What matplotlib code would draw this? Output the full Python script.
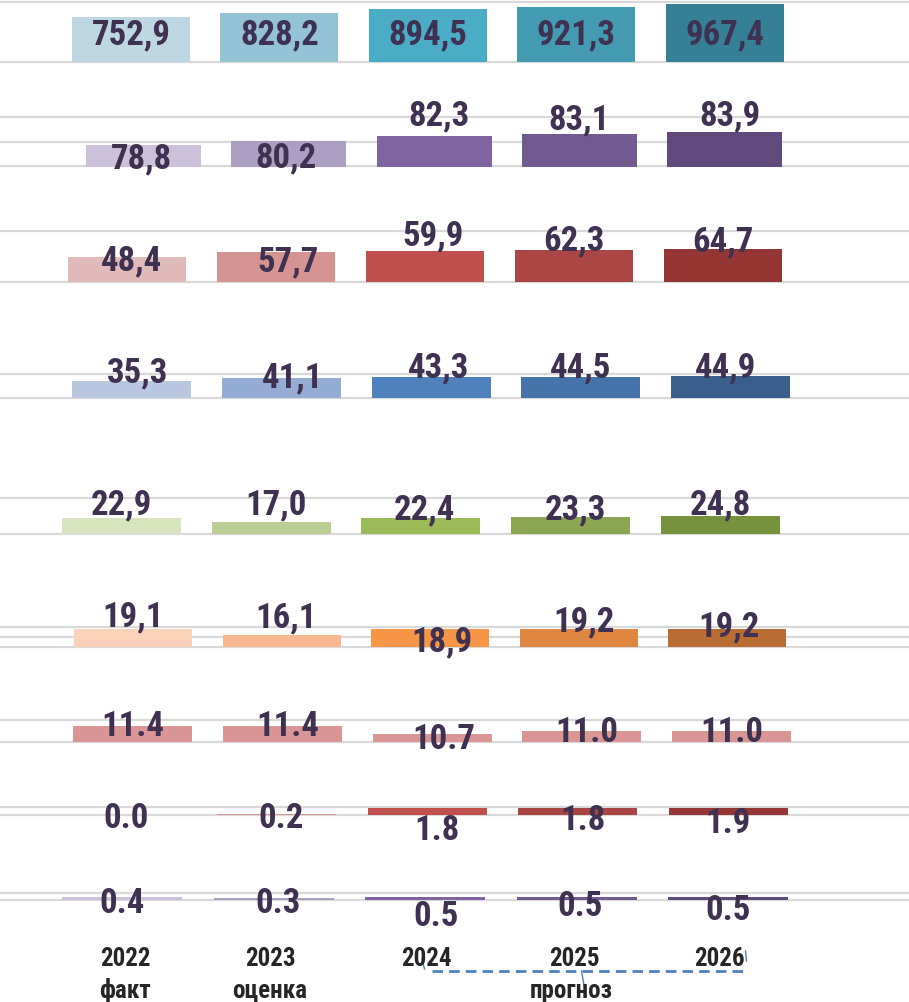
import matplotlib
matplotlib.use('Agg')
import matplotlib.pyplot as plt

# ── Data ──────────────────────────────────────────────────────────────────────
years = ['2022', '2023', '2024', '2025', '2026']
stages = ['факт', 'оценка', '', '', '']
forecast_label = 'прогноз'

row1 = [752.9, 828.2, 894.5, 921.3, 967.4]
row2 = [78.8, 80.2, 82.3, 83.1, 83.9]
row3 = [48.4, 57.7, 59.9, 62.3, 64.7]
row4 = [35.3, 41.1, 43.3, 44.5, 44.9]
row5 = [22.9, 17.0, 22.4, 23.3, 24.8]
row6 = [19.1, 16.1, 18.9, 19.2, 19.2]
row7 = [11.4, 11.4, 10.7, 11.0, 11.0]
row8 = [0.0, 0.2, 1.8, 1.8, 1.9]
row9 = [0.4, 0.3, 0.5, 0.5, 0.5]
rows = [row1, row2, row3, row4, row5, row6, row7, row8, row9]
decimal_sep = [',', ',', ',', ',', ',', ',', '.', '.', '.']

# ── Styles ────────────────────────────────────────────────────────────────────
colors = [
    ['#BDD8E3', '#93C3D4', '#4BACC6', '#449AB1', '#368095'],
    ['#CCC1DA', '#ACA0C2', '#8064A2', '#725A91', '#604A7B'],
    ['#E0BBBA', '#D59391', '#C0504D', '#AA4745', '#943634'],
    ['#B9C7E1', '#95ADD3', '#4F81BD', '#4673AA', '#3A5F8D'],
    ['#D7E4BD', '#BACE96', '#9BBB59', '#8AA650', '#76923C'],
    ['#FAD1B9', '#F8B790', '#F79646', '#DF8641', '#B96D32'],
    ['#DA9694', '#DA9694', '#DA9694', '#DA9694', '#DA9694'],
    ['#D99694', '#D99694', '#C0504D', '#A94644', '#943634'],
    ['#CCC1DA', '#ACA0C2', '#8064A2', '#725A91', '#604A7B'],
]

# per row: (top px, bottom px, ymin, ymax, gridlines)
vlayout = [
    (3.3, 62.7, 0, 1000, [0, 1000]),
    (117.7, 167.5, 70, 90, [70, 80, 90]),
    (231.7, 283.0, 0, 100, [0, 100]),
    (375.0, 398.7, 0, 50, [0, 50]),
    (499.0, 535.0, 0, 50, [0, 50]),
    (628.0, 647.8, 10, 20, [10, 15, 20]),
    (720.7, 743.0, 10, 12, [10, 12]),
    (808.3, 815.8, 0, 2, [0, 2]),
    (894.0, 901.0, 0, 1, [0, 1]),
]
# per row: (first bar centre px, spacing px, bar width px)
hlayout = [
    (131, 148.4, 118), (143.5, 145.3, 115), (127, 149, 118),
    (131.5, 149.75, 119), (121.5, 149.75, 119), (133, 148.5, 118),
    (132.5, 149.75, 119), (126, 150.5, 119), (122, 151.5, 120),
]
# label baseline distance below bar top (px) and horizontal shift (px)
lab_dy = [
    [26, 31, 35, 36, 39], [23, 25, -11, -5, -7], [12, 18, -7, -1, 2],
    [0, 8, -1, 0, 0], [-4, -8, 1, 1, -3], [-3, -8, 21, 2, 7],
    [9, 9, 14, 10, 10], [12, 13, 31, 21, 24], [15, 14, 29, 19, 23],
]
lab_dx = [
    [0, 0, 0, 0, 0], [-2, -3, 5, 0, 5], [5, 12, 8, 0, 0],
    [6, 11, 8, 0, -5], [0, 5, 3, 5, 0], [0, 5, 12, 5, 2],
    [0, 6, 12, 5, 0], [0, 5, 10, 5, 0], [0, 5, 11, 4, 0],
]

FONT = ['Roboto Condensed', 'DejaVu Sans']
TXT = '#3F3151'
GRID = '#D9D9D9'
W, H = 909, 1003
PT = 72 / 100  # px -> pt

fig = plt.figure(figsize=(W / 100, H / 100), dpi=100, facecolor='white')

for r, vals in enumerate(rows):
    top, bot, ymin, ymax, grid = vlayout[r]
    c0, sp, bw = hlayout[r]
    ax = fig.add_axes([0, 1 - bot / H, 1, (bot - top) / H])
    ax.set_xlim(-c0 / sp, (W - c0) / sp)
    ax.set_ylim(ymin, ymax)
    ax.axis('off')
    for g in grid:
        ax.axhline(g, color=GRID, lw=1.6, zorder=1, clip_on=False)
    x = list(range(len(vals)))
    ax.bar(x, vals, width=bw / sp, color=colors[r], zorder=2)
    for i, v in enumerate(vals):
        txt = f'{v:.1f}'.replace('.', decimal_sep[r])
        ax.annotate(txt, xy=(i, max(v, ymin)),
                    xytext=(lab_dx[r][i] * PT, -lab_dy[r][i] * PT),
                    textcoords='offset points', ha='center', va='baseline',
                    fontsize=25, fontweight='bold', fontstretch='condensed',
                    color=TXT, family=FONT, zorder=5, annotation_clip=False)

# ── Category labels ───────────────────────────────────────────────────────────
lab = fig.add_axes([0, 0, 1, 1])
lab.set_xlim(0, W)
lab.set_ylim(H, 0)
lab.axis('off')
cat_x = [125, 270, 426, 574, 719]
kw = dict(ha='center', va='baseline', fontsize=18, fontweight='bold',
          fontstretch='condensed', color='#262626', family=FONT)
for cx, yr, st in zip(cat_x, years, stages):
    lab.text(cx, 966, yr, **kw)
    if st:
        lab.text(cx, 998, st, **kw)
lab.text(571, 998, forecast_label, **kw)

# forecast bracket
lab.plot([432, 745], [972, 972], color='#4F81BD', lw=2.0, ls=(0, (3.8, 2.2)))
lab.plot([422, 424.5], [960, 970], color='#4F81BD', lw=1.0)
lab.plot([745.5, 746.5], [952, 962], color='#4F81BD', lw=1.0)
lab.plot([581.5, 585], [972, 992], color='#4F81BD', lw=1.0)

fig.savefig('out.png', dpi=100, facecolor='white')
